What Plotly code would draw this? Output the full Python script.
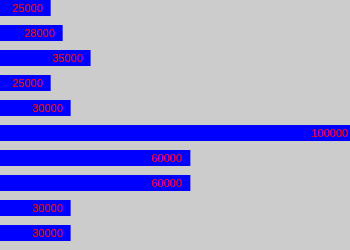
import plotly.graph_objects as go

values = [25000, 28000, 35000, 25000, 30000, 100000, 60000, 60000, 30000, 30000]
labels = [str(v) for v in values]
positions = list(range(len(values)))

fig = go.Figure(go.Bar(
    x=values,
    y=positions,
    orientation="h",
    marker=dict(color="#0000ff", line=dict(width=0)),
    width=0.64,
    hoverinfo="skip",
))

for v, p, t in zip(values, positions, labels):
    fig.add_annotation(
        x=v, y=p, text=t, showarrow=False,
        xanchor="left", yanchor="middle", xshift=-39,
        borderpad=0, borderwidth=0,
        font=dict(family="Liberation Sans", size=11, color="#ff0000"),
    )

fig.update_layout(
    width=350,
    height=250,
    margin=dict(l=0, r=0, t=0, b=0),
    paper_bgcolor="#cccccc",
    plot_bgcolor="#cccccc",
    showlegend=False,
    xaxis=dict(range=[12300, 100000], visible=False, fixedrange=True),
    yaxis=dict(range=[9.68, -0.32], visible=False, fixedrange=True),
)

fig.write_html("out.html", config={"displayModeBar": False})
